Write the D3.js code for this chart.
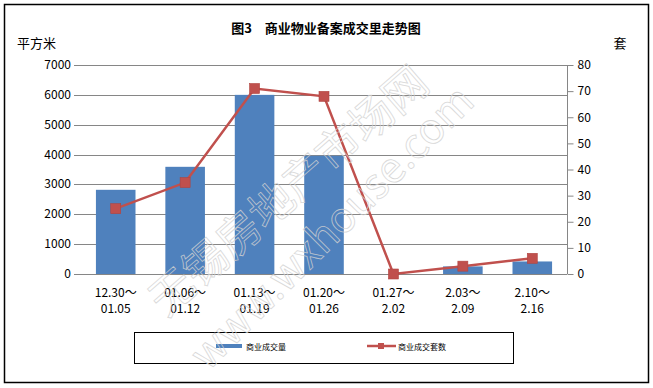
<!DOCTYPE html>
<html>
<head>
<meta charset="utf-8">
<script src="https://cdn.jsdelivr.net/npm/d3@7"></script>
<style>
  body { margin: 0; background: #fff; }
  text { font-family: "Noto Sans CJK SC", "DejaVu Sans", sans-serif; }
</style>
</head>
<body>
<div id="chart"></div>
<script>
// data
const categories = ["12.30～|01.05", "01.06～|01.12", "01.13～|01.19", "01.20～|01.26", "01.27～|2.02", "2.03～|2.09", "2.10～|2.16"];
const areaValues = [2820, 3590, 6000, 3960, 0, 255, 420];
const unitValues = [25, 35, 71, 68, 0, 3, 6];
const leftTicks = [0, 1000, 2000, 3000, 4000, 5000, 6000, 7000];
const rightTicks = [0, 10, 20, 30, 40, 50, 60, 70, 80];

const width = 653, height = 388;
const x0 = 81, x1 = 567, yTop = 65, yBot = 274;
const barColor = "#4F81BD", lineColor = "#C0504D";

const svg = d3.select("#chart").append("svg")
  .attr("width", width)
  .attr("height", height);

// outer frame
svg.append("rect")
  .attr("x", 4.5).attr("y", 4.5)
  .attr("width", 644).attr("height", 378)
  .attr("fill", "#fff").attr("stroke", "#000").attr("stroke-width", 1.5);

const x = d3.scaleBand().domain(categories).range([x0, x1]).paddingInner(0.43).paddingOuter(0.215);
const xc = d3.scaleBand().domain(categories).range([x0, x1]);
const yL = d3.scaleLinear().domain([0, 7000]).range([yBot, yTop]);
const yR = d3.scaleLinear().domain([0, 80]).range([yBot, yTop]);

// gridlines
svg.append("g")
  .selectAll("line").data(leftTicks).join("line")
  .attr("x1", x0 - 7).attr("x2", x1)
  .attr("y1", d => Math.round(yL(d)) + 0.5).attr("y2", d => Math.round(yL(d)) + 0.5)
  .attr("stroke", "#868686").attr("stroke-width", 1);

// left axis labels
svg.append("g")
  .selectAll("text").data(leftTicks).join("text")
  .attr("x", 71).attr("y", d => yL(d) + 4)
  .attr("text-anchor", "end")
  .attr("font-size", 12).attr("fill", "#000")
  .text(d => d);

// right axis
const rAxis = svg.append("g")
  .attr("transform", `translate(${x1 + 0.5},0)`)
  .call(d3.axisRight(yR).tickValues(rightTicks).tickSize(6).tickPadding(4));
rAxis.selectAll("line, path").attr("stroke", "#868686");
rAxis.select(".domain").attr("d", `M0,${yTop}V${yBot}`);
rAxis.selectAll("text")
  .attr("font-size", 12).attr("fill", "#000")
  .style("font-family", "'Noto Sans CJK SC', 'DejaVu Sans', sans-serif");

// bars
svg.append("g")
  .selectAll("rect").data(areaValues).join("rect")
  .attr("x", (d, i) => x(categories[i]))
  .attr("width", x.bandwidth())
  .attr("y", d => yL(d))
  .attr("height", d => yBot - yL(d))
  .attr("fill", barColor);

// line + markers
const cx = (i) => xc(categories[i]) + xc.bandwidth() / 2;
const line = d3.line().x((d, i) => cx(i)).y(d => yR(d));
svg.append("path")
  .datum(unitValues)
  .attr("d", line)
  .attr("fill", "none")
  .attr("stroke", lineColor)
  .attr("stroke-width", 2.5);
svg.append("g")
  .selectAll("rect").data(unitValues).join("rect")
  .attr("x", (d, i) => cx(i) - 5)
  .attr("y", d => yR(d) - 5)
  .attr("width", 10).attr("height", 10)
  .attr("fill", lineColor)
  .attr("stroke", "#b04440").attr("stroke-width", 0.6);

// category labels
const xl = svg.append("g");
categories.forEach((c, i) => {
  const parts = c.split("|");
  xl.append("text")
    .attr("x", cx(i)).attr("y", 297)
    .attr("text-anchor", "middle").attr("font-size", 12)
    .text(parts[0]);
  xl.append("text")
    .attr("x", cx(i)).attr("y", 313)
    .attr("text-anchor", "middle").attr("font-size", 12)
    .text(parts[1]);
});

// titles
svg.append("text")
  .attr("x", 326).attr("y", 33)
  .attr("text-anchor", "middle")
  .attr("font-size", 13).attr("font-weight", "bold")
  .text("图3　商业物业备案成交里走势图");
svg.append("text")
  .attr("x", 17).attr("y", 48)
  .attr("font-size", 13)
  .text("平方米");
svg.append("text")
  .attr("x", 620).attr("y", 48)
  .attr("text-anchor", "middle")
  .attr("font-size", 13)
  .text("套");

// legend
const lg = svg.append("g");
lg.append("rect")
  .attr("x", 134.5).attr("y", 332.5)
  .attr("width", 379).attr("height", 31)
  .attr("fill", "none").attr("stroke", "#000").attr("stroke-width", 1);
lg.append("rect")
  .attr("x", 216).attr("y", 344).attr("width", 26).attr("height", 4)
  .attr("fill", barColor);
lg.append("text")
  .attr("x", 246).attr("y", 350).attr("font-size", 8)
  .text("商业成交量");
lg.append("line")
  .attr("x1", 367).attr("x2", 396).attr("y1", 346).attr("y2", 346)
  .attr("stroke", lineColor).attr("stroke-width", 2.5);
lg.append("rect")
  .attr("x", 378).attr("y", 343).attr("width", 6).attr("height", 6)
  .attr("fill", lineColor);
lg.append("text")
  .attr("x", 398).attr("y", 350).attr("font-size", 8)
  .text("商业成交套数");

// watermark
const wm = svg.append("g")
  .attr("fill", "none").attr("stroke", "#d2d2d2").attr("stroke-width", 0.8)
  .attr("opacity", 0.85);
wm.append("text")
  .attr("transform", "translate(166,318) rotate(-41)")
  .attr("font-size", 44)
  .text("无锡房地产市场网");
wm.append("text")
  .attr("transform", "translate(208,372) rotate(-45)")
  .attr("font-size", 42)
  .attr("font-family", "DejaVu Sans, sans-serif")
  .text("www.wxhouse.com");
</script>
</body>
</html>
